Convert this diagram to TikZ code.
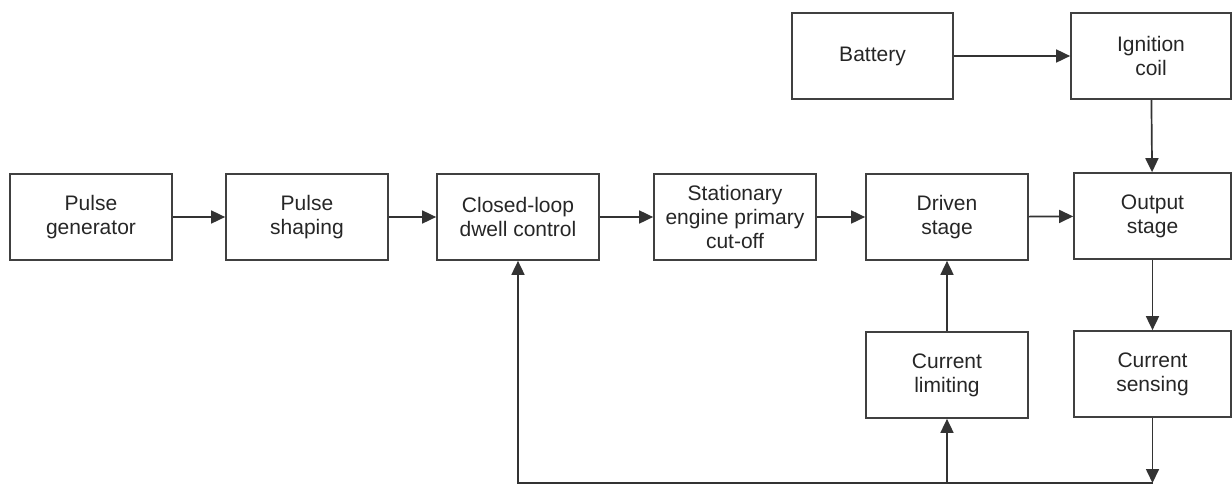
\documentclass[tikz,border=0pt]{standalone}
\usepackage{fontspec}
\setmainfont{Liberation Sans}
\usetikzlibrary{arrows.meta}
\begin{document}
\begin{tikzpicture}[x=1pt,y=-1pt,
  blk/.style={draw=black!75, line width=1.7pt, rectangle, minimum width=162pt, minimum height=86pt,
    inner sep=0pt, align=center, font=\fontsize{21pt}{24pt}\selectfont, text=black!85},
  arr/.style={draw=black!80, line width=1.7pt, -{Triangle[length=14pt,width=13pt]}}]
\useasboundingbox (0,0) rectangle (1232,485);
\node[blk] (pg) at (91,217) {Pulse\\generator};
\node[blk] (ps) at (307,217) {Pulse\\shaping};
\node[blk] (cl) at (518,217) {Closed-loop\\dwell control};
\node[blk] (st) at (735,217) {Stationary\\engine primary\\cut-off};
\node[blk] (dr) at (947,217) {Driven\\stage};
\node[blk, minimum width=157pt] (out) at (1152.5,216) {Output\\stage};
\node[blk, minimum width=161pt] (bat) at (872.5,56) {Battery};
\node[blk, minimum width=160pt] (ign) at (1151,56) {Ignition\\coil};
\node[blk] (lim) at (947,375) {Current\\limiting};
\node[blk, minimum width=157pt] (sen) at (1152.5,374) {Current\\sensing};
\coordinate (bot) at (0,483);
\draw[arr] (pg) -- (ps);
\draw[arr] (ps) -- (cl);
\draw[arr] (cl) -- (st);
\draw[arr] (st) -- (dr);
\draw[arr] (dr) -- (out);
\draw[arr] (bat) -- (ign);
\draw[arr] (ign) -- (out);
\draw[arr] (out) -- (sen);
\draw[arr] (sen.south) -- (sen.south |- bot);
\draw[arr] (sen.south |- bot) -- (cl.south |- bot) -- (cl.south);
\draw[arr] (lim.south |- bot) -- (lim.south);
\draw[arr] (lim) -- (dr);
\end{tikzpicture}
\end{document}
